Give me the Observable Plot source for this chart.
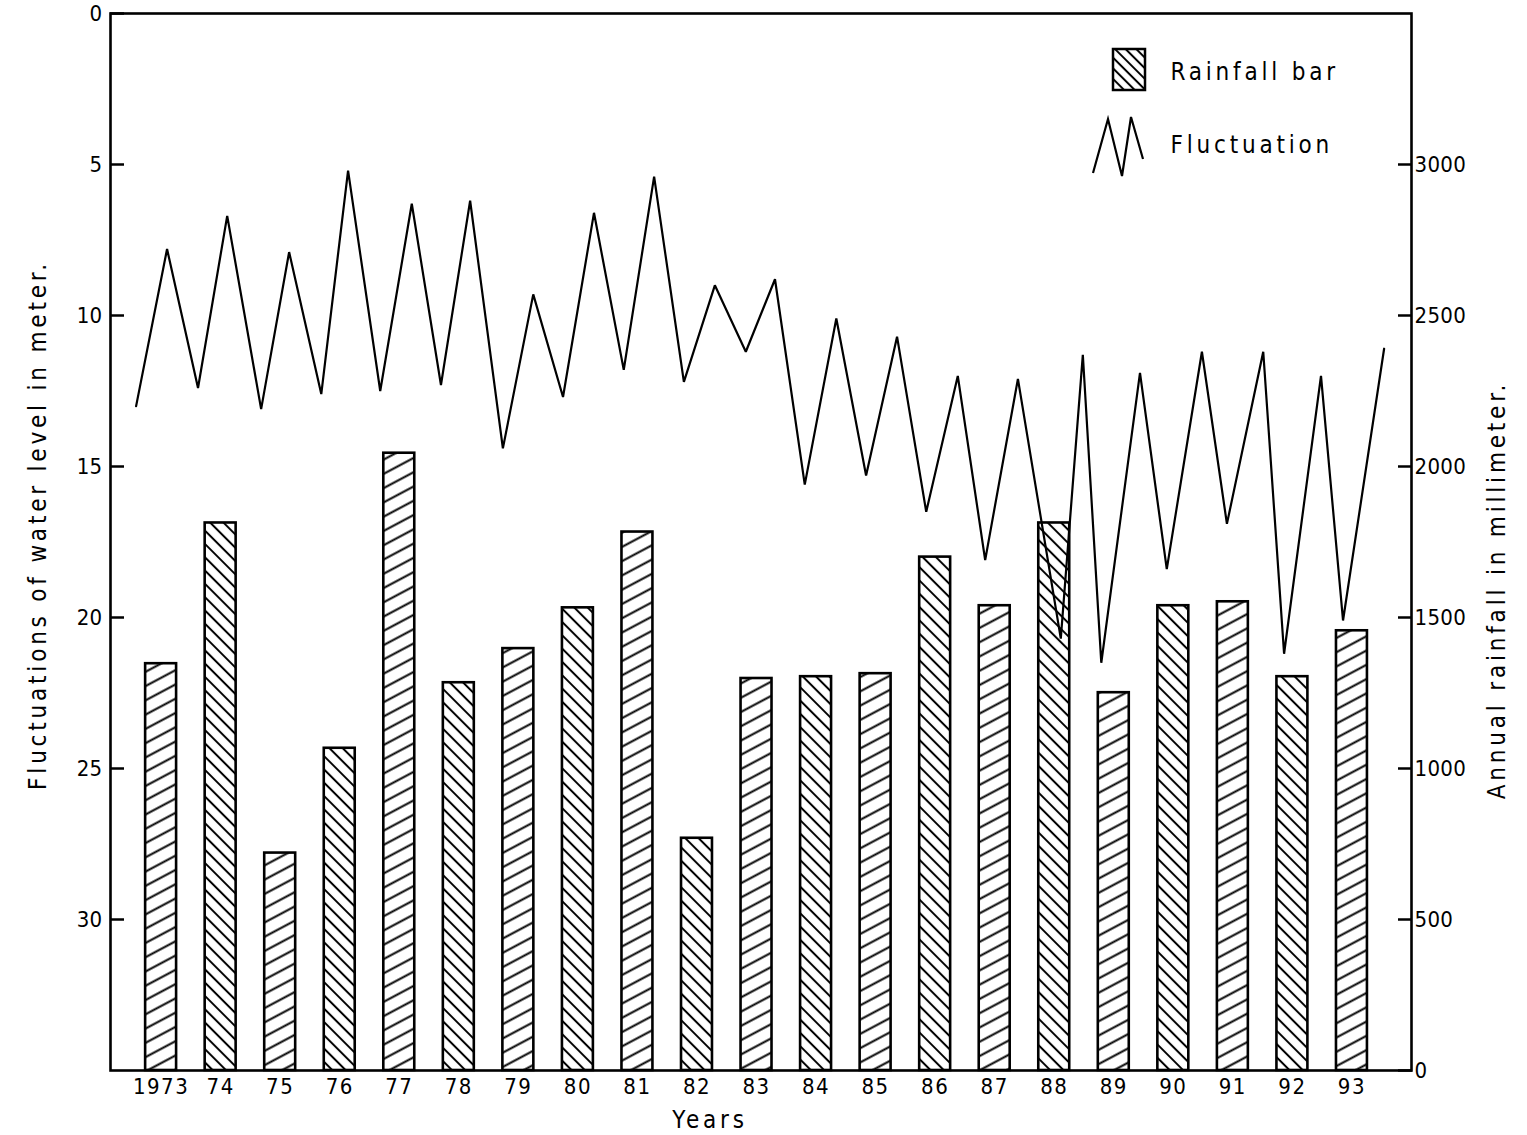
<!DOCTYPE html>
<html>
<head>
<meta charset="utf-8">
<script src="https://cdn.jsdelivr.net/npm/d3@7"></script>
<script src="https://cdn.jsdelivr.net/npm/@observablehq/plot@0.6"></script>
<style>
  html, body { margin: 0; padding: 0; background: #fff; }
  #chart { position: relative; width: 1527px; height: 1135px; }
  #chart svg { display: block; }
  #chart text { fill: #000; }
  [aria-label="x-axis tick label"] text { letter-spacing: 1.5px; }
  [aria-label="y-axis tick label"] text { letter-spacing: 0.3px; }
  text.spaced { letter-spacing: 3.8px; }
</style>
</head>
<body>
<div id="chart"></div>
<script>
// ---------------- data ----------------
const years = [1973, 1974, 1975, 1976, 1977, 1978, 1979, 1980, 1981, 1982, 1983,
               1984, 1985, 1986, 1987, 1988, 1989, 1990, 1991, 1992, 1993];
const yearLabels = ["1973", "74", "75", "76", "77", "78", "79", "80", "81", "82", "83",
                    "84", "85", "86", "87", "88", "89", "90", "91", "92", "93"];
// annual rainfall (mm)
const rainfallMm = [1347, 1813, 720, 1067, 2044, 1284, 1397, 1532, 1783, 769, 1298,
                    1304, 1314, 1700, 1539, 1813, 1251, 1539, 1552, 1304, 1456];
// water level below ground (m): deeper reading (pre-monsoon) and shallower reading (post-monsoon)
const lowTime   = [1972.58, 1973.62, 1974.68, 1975.69, 1976.68, 1977.70, 1978.74, 1979.75, 1980.77, 1981.78, 1982.82,
                   1983.81, 1984.84, 1985.85, 1986.84, 1988.11, 1988.79, 1989.89, 1990.90, 1991.86, 1992.85];
const lowDepth  = [13.0, 12.4, 13.1, 12.6, 12.5, 12.3, 14.4, 12.7, 11.8, 12.2, 11.2,
                   15.6, 15.3, 16.5, 18.1, 20.7, 21.5, 18.4, 16.9, 21.2, 20.1];
const highTime  = [1973.10, 1974.11, 1975.15, 1976.14, 1977.21, 1978.19, 1979.25, 1980.27, 1981.28, 1982.30, 1983.31,
                   1984.34, 1985.36, 1986.38, 1987.39, 1988.48, 1989.44, 1990.48, 1991.51, 1992.48, 1993.54];
const highDepth = [7.8, 6.7, 7.9, 5.2, 6.3, 6.2, 9.3, 6.6, 5.4, 9.0, 8.8,
                   10.1, 10.7, 12.0, 12.1, 11.3, 11.9, 11.2, 11.2, 12.0, 11.1];
const depthTicks = [0, 5, 10, 15, 20, 25, 30];
const rainTicks = [0, 500, 1000, 1500, 2000, 2500, 3000];

// the rainfall axis shares the frame: 0 mm at 35 m, 100 mm per metre
const DEPTH_MAX = 35;
const MM_PER_M = 100;
const rainToDepth = (mm) => DEPTH_MAX - mm / MM_PER_M;

// ---------------- tables ----------------
const bars = years.map((year, i) => ({year, mm: rainfallMm[i], hatch: i % 2 === 0 ? "up" : "down"}));
const levels = [];
years.forEach((y, i) => {
  levels.push({t: lowTime[i], depth: lowDepth[i]});
  levels.push({t: highTime[i], depth: highDepth[i]});
});

const HALF = 0.26;
const barOpts = (fill) => ({
  x1: d => d.year - HALF,
  x2: d => d.year + HALF,
  y1: () => DEPTH_MAX,
  y2: d => rainToDepth(d.mm),
  fill,
  stroke: "#000",
  strokeWidth: 2.6
});

const FONT = "'DejaVu Sans Condensed', 'DejaVu Sans', sans-serif";
const FS = 22;   // tick labels
const TS = 24;   // titles and legend

const chart = Plot.plot({
  width: 1527,
  height: 1135,
  marginTop: 13,
  marginBottom: 65,
  marginLeft: 110,
  marginRight: 116,
  style: {fontFamily: FONT, fontSize: FS + "px", background: "#fff", color: "#000"},
  x: {type: "linear", domain: [1972.15, 1994.0], label: null},
  y: {domain: [0, DEPTH_MAX], reverse: true, label: null},
  marks: [
    Plot.rect(bars.filter(d => d.hatch === "up"), barOpts("url(#hatchUp)")),
    Plot.rect(bars.filter(d => d.hatch === "down"), barOpts("url(#hatchDown)")),
    Plot.line(levels, {x: "t", y: "depth", stroke: "#000", strokeWidth: 2.2, strokeLinejoin: "miter"}),
    Plot.frame({stroke: "#000", strokeWidth: 2.6}),
    Plot.axisY(depthTicks, {anchor: "left", tickSize: -14, tickPadding: 22, strokeWidth: 2.5, label: null, fontSize: FS}),
    Plot.axisY(rainTicks.map(rainToDepth), {
      anchor: "right", tickSize: -14, tickPadding: 17, strokeWidth: 2.5, label: null, fontSize: FS,
      tickFormat: d => String(Math.round((DEPTH_MAX - d) * MM_PER_M))
    }),
    Plot.axisX(years, {
      anchor: "bottom", tickSize: 0, tickPadding: 8, label: null, fontSize: FS,
      tickFormat: d => yearLabels[years.indexOf(d)]
    }),
    Plot.text(["Years"], {frameAnchor: "bottom", dx: -51, dy: 50, lineAnchor: "middle", textAnchor: "middle", fontSize: TS}),
    Plot.text(["Fluctuations of water level in meter."], {frameAnchor: "left", dx: -72, dy: -17, rotate: -90, textAnchor: "middle", lineAnchor: "middle", fontSize: TS}),
    Plot.text(["Annual rainfall in millimeter."], {frameAnchor: "right", dx: 86, dy: 48, rotate: -90, textAnchor: "middle", lineAnchor: "middle", fontSize: TS}),
    Plot.text(["Rainfall bar"], {frameAnchor: "top-left", dx: 1060, dy: 59, textAnchor: "start", lineAnchor: "middle", fontSize: TS}),
    Plot.text(["Fluctuation"], {frameAnchor: "top-left", dx: 1060, dy: 132, textAnchor: "start", lineAnchor: "middle", fontSize: TS})
  ]
});

// pattern definitions and legend glyphs
const svg = d3.select(chart);
svg.insert("defs", ":first-child").html(`
  <pattern id="hatchUp" patternUnits="userSpaceOnUse" width="20" height="12.6" patternTransform="rotate(-28)">
    <rect width="20" height="12.6" fill="#fff"/>
    <line x1="-1" y1="6.3" x2="21" y2="6.3" stroke="#000" stroke-width="2"/>
  </pattern>
  <pattern id="hatchDown" patternUnits="userSpaceOnUse" width="20" height="9.4" patternTransform="rotate(45)">
    <rect width="20" height="9.4" fill="#fff"/>
    <line x1="-1" y1="4.7" x2="21" y2="4.7" stroke="#000" stroke-width="2"/>
  </pattern>
  <pattern id="hatchLegend" patternUnits="userSpaceOnUse" width="20" height="7.5" patternTransform="rotate(45)">
    <rect width="20" height="7.5" fill="#fff"/>
    <line x1="-1" y1="3.75" x2="21" y2="3.75" stroke="#000" stroke-width="2"/>
  </pattern>`);

// letter-spacing for the text titles
svg.selectAll('g[aria-label="text"] text').attr("class", "spaced");

const legend = svg.append("g").attr("aria-label", "legend");
legend.append("rect")
  .attr("x", 1113).attr("y", 49).attr("width", 32).attr("height", 41)
  .attr("fill", "url(#hatchLegend)").attr("stroke", "#000").attr("stroke-width", 2.5);
legend.append("path")
  .attr("d", "M1093,173 L1108,119 L1122,176 L1131,117 L1143,159")
  .attr("fill", "none").attr("stroke", "#000").attr("stroke-width", 2.2).attr("stroke-linejoin", "miter");

document.getElementById("chart").appendChild(chart);
</script>
</body>
</html>
